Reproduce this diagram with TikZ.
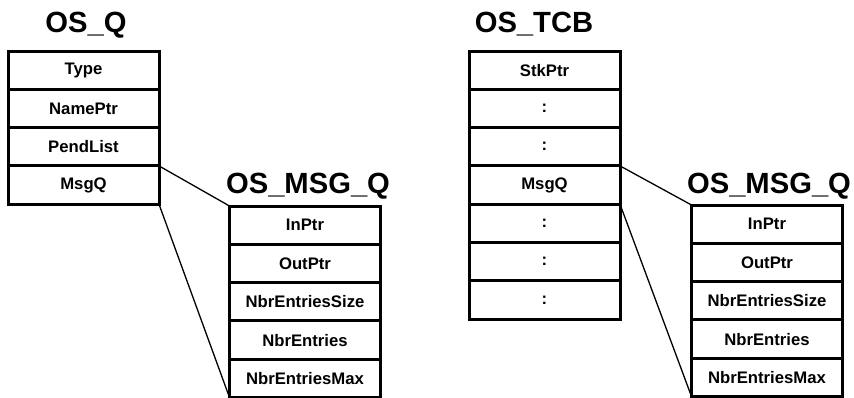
\documentclass[tikz,border=0pt]{standalone}
\usepackage{fontspec}
\setmainfont{Liberation Sans}
\usepackage{tikz}
\usetikzlibrary{positioning}
\newcommand{\cellfont}{\fontsize{16.7}{20}\selectfont\bfseries}
\newcommand{\titlefont}{\fontsize{29.2}{34}\selectfont\bfseries}
\begin{document}
\begin{tikzpicture}[x=1pt,y=-1pt,
  cell/.style={draw,line width=3pt,minimum width=151pt,minimum height=38.3pt,
    inner sep=0pt,outer sep=0pt,font=\cellfont},
  title/.style={anchor=base,inner sep=0pt,font=\titlefont},
  link/.style={line width=1.3pt}]
\useasboundingbox (0,0) rectangle (854,397);
\def\rowh{38.3}
% OS_Q
\node[title] (tq) at (86,32) {OS\_Q};
\foreach \t [count=\i] in {Type,NamePtr,PendList,MsgQ}
  \node[cell] (q\i) at (83.5,{51+(\i-0.5)*\rowh}) {\t};
% OS_TCB
\node[title] (ttcb) at (534,32) {OS\_TCB};
\foreach \t [count=\i] in {StkPtr,:,:,MsgQ,:,:,:}
  \node[cell] (tcb\i) at (544.5,{51+(\i-0.5)*\rowh}) {\t};
% both OS_MSG_Q
\node[title] (tmq) at (308,193) {OS\_MSG\_Q};
\node[title] (tmt) at (769,193) {OS\_MSG\_Q};
\foreach \t [count=\i] in {InPtr,OutPtr,NbrEntriesSize,NbrEntries,NbrEntriesMax}{
  \node[cell] (mq\i) at (305,{206+(\i-0.5)*\rowh}) {\t};
  \node[cell] (mt\i) at (767,{205+(\i-0.5)*\rowh}) {\t};
}
\draw[link] (q4.north east) -- (mq1.north west);
\draw[link] (q4.south east) -- (mq5.south west);
\draw[link] (tcb4.north east) -- (mt1.north west);
\draw[link] (tcb4.south east) -- (mt5.south west);
\end{tikzpicture}
\end{document}
